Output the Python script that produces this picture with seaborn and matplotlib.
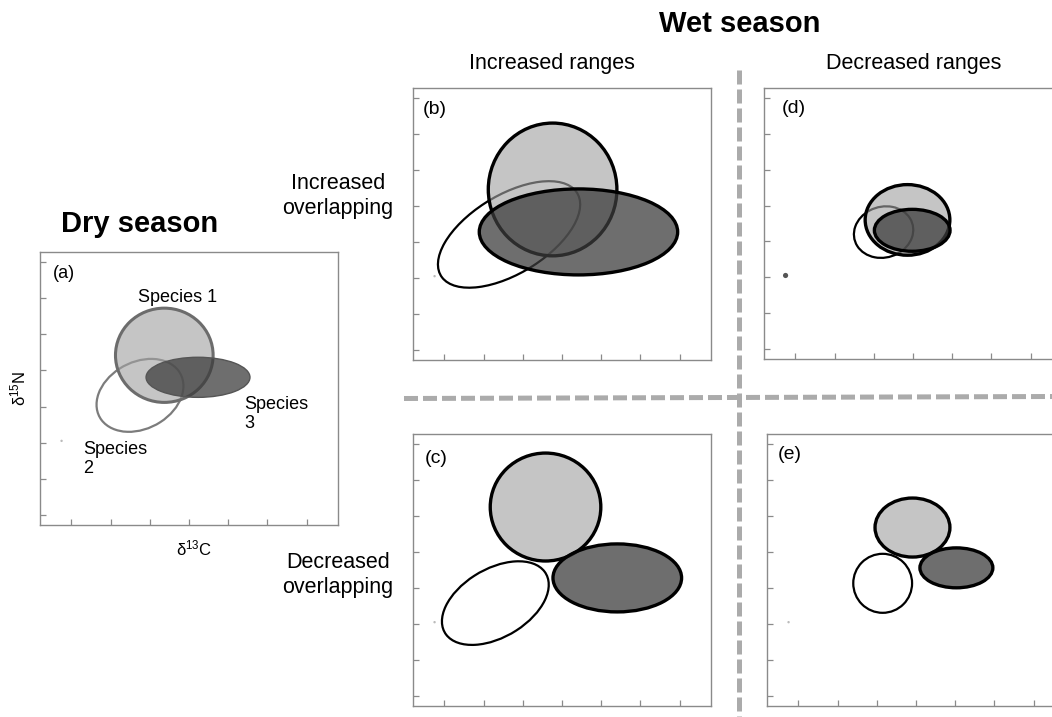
import matplotlib
matplotlib.use("Agg")
import matplotlib.pyplot as plt
from matplotlib.patches import Ellipse
from matplotlib.lines import Line2D
import pandas as pd
import seaborn as sns

sns.set_theme(style="ticks")
plt.rcParams["font.family"] = ["Liberation Sans", "DejaVu Sans"]
plt.rcParams["text.color"] = "black"
plt.rcParams["mathtext.fontset"] = "custom"
plt.rcParams["mathtext.rm"] = "Liberation Sans"
plt.rcParams["mathtext.default"] = "rm"

# ---- niche ellipses: (δ13C, δ15N) centre, width, height, tilt -------------
panels = ["a", "b", "c", "d", "e"]
species = ["Species 1", "Species 2", "Species 3"]

cx = {"a": [3.37, 2.75, 4.23],
      "b": [3.76, 2.65, 4.42],
      "c": [3.58, 2.30, 5.41],
      "d": [3.86, 3.25, 3.98],
      "e": [3.91, 3.15, 5.03]}
cy = {"a": [5.42, 4.31, 4.81],
      "b": [5.46, 4.21, 4.28],
      "c": [6.25, 3.58, 4.28],
      "d": [4.60, 4.26, 4.31],
      "e": [5.68, 4.13, 4.56]}
width = {"a": [2.49, 2.39, 2.65],
         "b": [3.28, 4.17, 5.06],
         "c": [2.82, 3.06, 3.28],
         "d": [2.16, 1.55, 1.93],
         "e": [1.91, 1.50, 1.86]}
height = {"a": [2.61, 1.81, 1.11],
          "b": [3.69, 2.13, 2.39],
          "c": [3.00, 1.86, 1.89],
          "d": [1.97, 1.40, 1.17],
          "e": [1.64, 1.64, 1.11]}
angle = {"a": [0, 35, 0],
         "b": [0, 35, 0],
         "c": [0, 35, 0],
         "d": [0, 30, 0],
         "e": [0, 0, 0]}

# origin marker shown in every panel
ref_x = [0.75]
ref_y = [3.05]

x_ticks = [1, 2, 3, 4, 5, 6, 7]
y_ticks = [1, 2, 3, 4, 5, 6, 7, 8]

# ---- figure layout (pixel helpers) ---------------------------------------
W, H = 1052, 717
fig = plt.figure(figsize=(W / 100, H / 100), dpi=100)


def box(left, top, w, h):
    return [left / W, (H - top - h) / H, w / W, h / H]


def fx(x):
    return x / W


def fy(y):
    return 1 - y / H


axes_px = {"a": (40, 252, 298, 273),
           "b": (413, 88, 298, 272),
           "c": (413, 434, 298, 272),
           "d": (764, 88, 298, 271),
           "e": (767, 434, 298, 272)}

fills = ["#a2a2a2", "none", "#3c3c3c"]
fill_alpha = [0.62, 0.0, 0.74]
order = [1, 0, 2]  # open ellipse underneath, then the two filled ones

for p in panels:
    ax = fig.add_axes(box(*axes_px[p]))
    ax.set_xlim(0.2, 7.8)
    ax.set_ylim(0.72, 8.28)
    ax.set_xticks(x_ticks)
    ax.set_yticks(y_ticks)
    ax.set_xticklabels([])
    ax.set_yticklabels([])
    ax.tick_params(direction="in", length=4, width=0.9, colors="#8a8a8a")
    for s in ax.spines.values():
        s.set_color("#8a8a8a")
        s.set_linewidth(1.0)

    if p == "a":
        edges = ["#6c6c6c", "#7c7c7c", "#555555"]
        lws = [2.2, 1.6, 1.0]
    else:
        edges = ["black", "black", "black"]
        lws = [2.4, 1.6, 2.4]

    for i in order:
        if fills[i] == "none":
            fc = "none"
        else:
            fc = matplotlib.colors.to_rgba(fills[i], fill_alpha[i])
        e = Ellipse((cx[p][i], cy[p][i]), width[p][i], height[p][i],
                    angle=angle[p][i], facecolor=fc, edgecolor=edges[i],
                    linewidth=lws[i], zorder=2 + order.index(i))
        ax.add_patch(e)

    ref = pd.DataFrame({"x": ref_x, "y": ref_y})
    sns.scatterplot(data=ref, x="x", y="y", ax=ax,
                    s=14 if p == "d" else 3,
                    color="#555555" if p == "d" else "#bbbbbb",
                    edgecolor="none", legend=False, zorder=1)
    ax.set_xlabel("")
    ax.set_ylabel("")

    lab_off = {"a": (13, 13), "b": (10, 13), "c": (12, 16),
               "d": (18, 12), "e": (11, 12)}
    l, t, _, _ = axes_px[p]
    ox, oy = lab_off[p]
    fig.text(fx(l + ox), fy(t + oy), f"({p})",
             fontsize=13 if p == "a" else 14, ha="left", va="top")

    if p == "a":
        ax.text(3.70, 7.03, species[0], fontsize=13, ha="center",
                va="center")
        ax.text(5.40, 4.30, "Species\n3", fontsize=13, ha="left",
                va="top", linespacing=1.2)
        ax.text(1.31, 3.05, "Species\n2", fontsize=13, ha="left",
                va="top", linespacing=1.2)

# axis labels of the dry-season panel
fig.text(fx(18), fy(388), "δ$^{15}$N", fontsize=12, rotation=90,
         ha="center", va="center")
fig.text(fx(194), fy(548), "δ$^{13}$C", fontsize=12, ha="center",
         va="center")

# titles and row/column headings
fig.text(fx(140), fy(224), "Dry season", fontsize=21, fontweight="bold",
         ha="center", va="center")
fig.text(fx(740), fy(24), "Wet season", fontsize=21, fontweight="bold",
         ha="center", va="center")
fig.text(fx(552), fy(64), "Increased ranges", fontsize=15.5, ha="center",
         va="center")
fig.text(fx(914), fy(64), "Decreased ranges", fontsize=15.5, ha="center",
         va="center")
fig.text(fx(338), fy(196), "Increased\noverlapping", fontsize=15.5,
         ha="center", va="center", linespacing=1.2)
fig.text(fx(338), fy(575), "Decreased\noverlapping", fontsize=15.5,
         ha="center", va="center", linespacing=1.2)

# dashed separators between the wet-season scenarios
dash = dict(color="#ababab", linewidth=3.6, linestyle=(0, (2.8, 1.0)),
            solid_capstyle="butt", dash_capstyle="butt")
fig.add_artist(Line2D([fx(739), fx(739)], [fy(70), fy(717)], **dash))
fig.add_artist(Line2D([fx(404), fx(1052)], [fy(398.5), fy(396.5)], **dash))

fig.savefig("out.png", dpi=100)
